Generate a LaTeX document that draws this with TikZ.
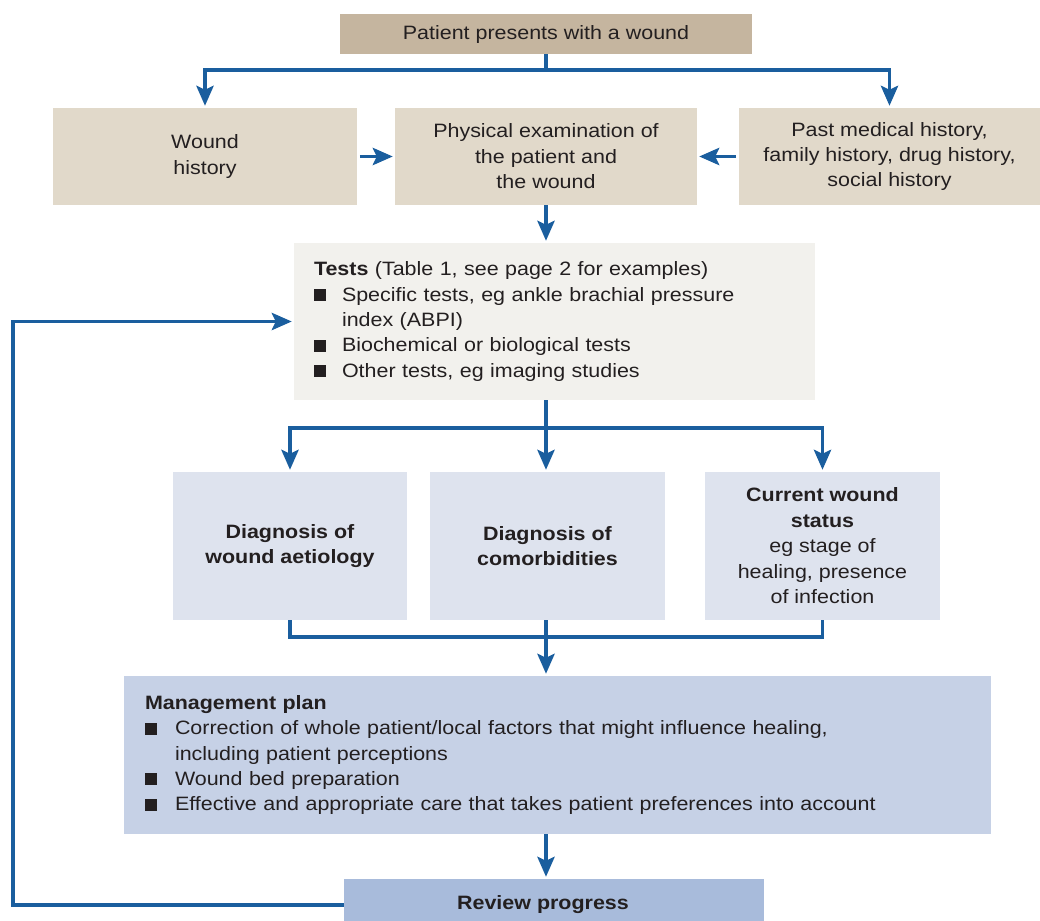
\documentclass[tikz,border=0pt]{standalone}
\usepackage{fontspec}
\setmainfont{Liberation Sans}[FakeStretch=1.11]
\usetikzlibrary{arrows.meta}

\definecolor{tanDark}{HTML}{C5B59F}
\definecolor{tanLight}{HTML}{E1D9CA}
\definecolor{testsFill}{HTML}{F2F1ED}
\definecolor{diagFill}{HTML}{DEE3EE}
\definecolor{planFill}{HTML}{C6D1E6}
\definecolor{reviewFill}{HTML}{A8BBDB}
\definecolor{flowBlue}{HTML}{1A5E9E}
\definecolor{ink}{HTML}{231F20}

% square bullet with the item text starting after it
\newcommand{\sqbul}[1]{\makebox[#1][l]{\rule{9pt}{9pt}}}

\begin{document}
\begin{tikzpicture}[x=0.75pt,y=-0.75pt,
  every node/.style={text=ink,font=\fontsize{14.5pt}{19.1pt}\selectfont},
  box/.style={draw=none,inner sep=0pt,align=center},
  line/.style={draw=flowBlue,line width=2.3pt},
  arr/.style={line,-{Stealth[length=15pt,width=13pt,inset=3pt]},shorten >=1.5pt}
]
\useasboundingbox (0,0) rectangle (1040,921);

% boxes
\node[box,fill=tanDark,minimum width=309pt,minimum height=30pt] (top) at (546,34)
  {Patient presents with a wound};
\node[box,fill=tanLight,minimum width=228pt,minimum height=72.75pt] (wh) at (205,156.5)
  {Wound\\history};
\node[box,fill=tanLight,minimum width=226.5pt,minimum height=72.75pt] (pe) at (546,156.5)
  {Physical examination of\\the patient and\\the wound};
\node[box,fill=tanLight,minimum width=225.75pt,minimum height=72.75pt] (pm) at (889.5,156.5)
  {Past medical history,\\family history, drug history,\\social history};

\node[box,fill=testsFill,align=left,text width=360.75pt,inner xsep=15pt,
      minimum height=117.75pt] (tests) at (554.5,321.5)
  {\textbf{Tests} (Table 1, see page 2 for examples)\\
   \sqbul{21pt}Specific tests, eg ankle brachial pressure\\
   \hspace*{21pt}index (ABPI)\\
   \sqbul{21pt}Biochemical or biological tests\\
   \sqbul{21pt}Other tests, eg imaging studies};

\node[box,fill=diagFill,minimum width=175.5pt,minimum height=111pt] (d1) at (290,546)
  {\textbf{Diagnosis of}\\\textbf{wound aetiology}};
\node[box,fill=diagFill,minimum width=176.25pt,minimum height=111pt] (d2) at (547.5,546)
  {\textbf{Diagnosis of}\\\textbf{comorbidities}};
\node[box,fill=diagFill,minimum width=176.25pt,minimum height=111pt] (d3) at (822.5,546)
  {\textbf{Current wound}\\\textbf{status}\\eg stage of\\healing, presence\\of infection};

\node[box,fill=planFill,align=left,text width=618.75pt,inner xsep=15.75pt,
      minimum height=118.5pt] (mp) at (557.5,755)
  {\textbf{Management plan}\\
   \sqbul{22.5pt}Correction of whole patient/local factors that might influence healing,\\
   \hspace*{22.5pt}including patient perceptions\\
   \sqbul{22.5pt}Wound bed preparation\\
   \sqbul{22.5pt}Effective and appropriate care that takes patient preferences into account};

% the label sits a little left of the box centre
\node[box,fill=reviewFill,minimum width=315pt,minimum height=39pt] (rp) at (554,905)
  {\hspace*{-16.5pt}\textbf{Review progress}};

% junction points of the connectors
\coordinate (j1) at (546,70);
\coordinate (j2) at (546,428);
\coordinate (j3) at (546,637);
\coordinate (fb) at (13,0);

% connectors
\draw[line] (top.south -| j1) -- (j1);
\draw[arr] (j1) -| (wh.north);
\draw[arr] (j1) -| (pm.north);
\draw[arr,shorten <=2pt] (wh.east) -- (pe.west);
\draw[arr,shorten <=2pt] (pm.west) -- (pe.east);
\draw[arr] (pe.south -| j1) -- (tests.north -| j1);

\draw[line] (tests.south -| j2) -- (j2);
\draw[arr] (j2) -| (d1.north);
\draw[arr] (j2) -- (d2.north -| j2);
\draw[arr] (j2) -| (d3.north);

\draw[line] (d1.south) |- (j3);
\draw[line] (d3.south) |- (j3);
\draw[line] (d2.south -| j3) -- (j3);
\draw[arr] (j3) -- (mp.north -| j3);
\draw[arr] (mp.south -| j3) -- (rp.north -| j3);

\draw[arr] (rp.west) -- (rp.west -| fb) |- (tests.west);
\end{tikzpicture}
\end{document}
